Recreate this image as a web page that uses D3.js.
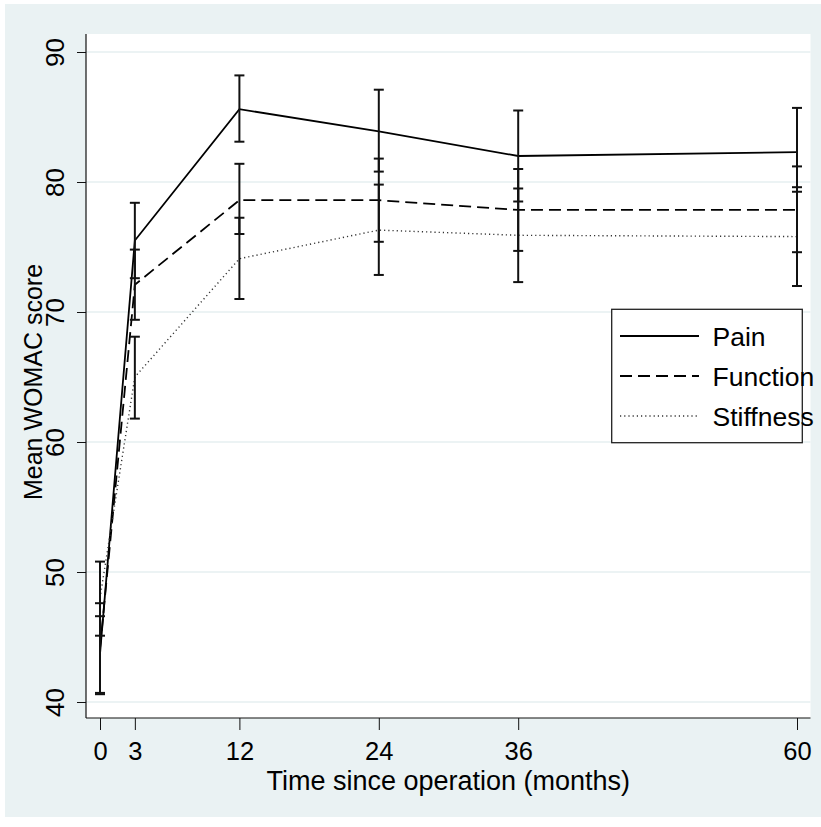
<!DOCTYPE html>
<html>
<head>
<meta charset="utf-8">
<script src="https://cdn.jsdelivr.net/npm/d3@7"></script>
<style>
  body { margin: 0; background: #fff; }
  svg { display: block; font-family: "Liberation Sans", Arial, sans-serif; }
</style>
</head>
<body>
<svg id="chart"></svg>
<script>
// months since operation
var months = [0, 3, 12, 24, 36, 60];
var yTicks = [40, 50, 60, 70, 80, 90];

// mean WOMAC scores and 95% CI
var painMean = [43.7, 75.5, 85.6, 83.9, 82.0, 82.3];
var painLo   = [40.7, 72.6, 83.1, 80.8, 78.5, 79.25];
var painHi   = [46.6, 78.4, 88.2, 87.1, 85.5, 85.7];

var funcMean = [44.1, 72.1, 78.6, 78.6, 77.85, 77.85];
var funcLo   = [40.6, 69.4, 76.0, 75.4, 74.7, 74.6];
var funcHi   = [47.6, 74.8, 81.4, 81.8, 81.0, 81.2];

var stiffMean = [48.0, 65.0, 74.1, 76.3, 75.9, 75.8];
var stiffLo   = [45.1, 61.8, 71.0, 72.85, 72.3, 72.0];
var stiffHi   = [50.8, 68.1, 77.25, 79.8, 79.5, 79.6];

var seriesNames = ["Pain", "Function", "Stiffness"];

var W = 821, H = 827;
var plotL = 86, plotR = 810.5, plotT = 34, plotB = 718;

var svg = d3.select("#chart")
    .attr("width", W)
    .attr("height", H);

// outer stata-ish background
svg.append("rect")
    .attr("x", 5).attr("y", 4)
    .attr("width", W - 5).attr("height", 813)
    .attr("fill", "#eaf2f3");

svg.append("rect")
    .attr("x", plotL).attr("y", plotT)
    .attr("width", plotR - plotL).attr("height", plotB - plotT)
    .attr("fill", "#fff");

var x = d3.scaleLinear().domain([0, 60]).range([100, 797]);
var y = d3.scaleLinear().domain([40, 90]).range([702, 52]);

// gridlines
svg.append("g")
    .selectAll("line")
    .data(yTicks)
    .enter().append("line")
    .attr("x1", plotL).attr("x2", plotR)
    .attr("y1", function (d) { return y(d); })
    .attr("y2", function (d) { return y(d); })
    .attr("stroke", "#e6eff1")
    .attr("stroke-width", 1.3);

// y axis
var yAxis = svg.append("g")
    .attr("transform", "translate(" + plotL + ",0)")
    .call(d3.axisLeft(y).tickValues(yTicks).tickSize(9).tickSizeOuter(0));
yAxis.select(".domain").remove();
yAxis.selectAll("line").attr("stroke", "#111").attr("stroke-width", 1);
yAxis.selectAll("text")
    .attr("transform", "rotate(-90)")
    .attr("x", 0)
    .attr("y", -22.5)
    .attr("dy", 0)
    .attr("text-anchor", "middle")
    .attr("font-family", null)
    .attr("font-size", 26)
    .attr("fill", "#000");

// x axis
var xAxis = svg.append("g")
    .attr("transform", "translate(0," + plotB + ")")
    .call(d3.axisBottom(x).tickValues(months).tickSize(12).tickSizeOuter(0));
xAxis.select(".domain").remove();
xAxis.selectAll("line").attr("stroke", "#111").attr("stroke-width", 1);
xAxis.selectAll("text")
    .attr("y", 42)
    .attr("dy", 0)
    .attr("font-family", null)
    .attr("font-size", 25.5)
    .attr("fill", "#000");

// axis lines
svg.append("line")
    .attr("x1", plotL).attr("x2", plotL)
    .attr("y1", plotT).attr("y2", plotB)
    .attr("stroke", "#111").attr("stroke-width", 1.2);
svg.append("line")
    .attr("x1", plotL).attr("x2", plotR)
    .attr("y1", plotB).attr("y2", plotB)
    .attr("stroke", "#111").attr("stroke-width", 1.2);

// titles
svg.append("text")
    .attr("x", (plotL + plotR) / 2)
    .attr("y", 790)
    .attr("text-anchor", "middle")
    .attr("font-size", 27)
    .text("Time since operation (months)");

svg.append("text")
    .attr("transform", "translate(42," + 382 + ") rotate(-90)")
    .attr("text-anchor", "middle")
    .attr("font-size", 25)
    .text("Mean WOMAC score");

var series = [
    { name: seriesNames[0], mean: painMean, lo: painLo, hi: painHi, dash: null, width: 1.8, color: "#000" },
    { name: seriesNames[1], mean: funcMean, lo: funcLo, hi: funcHi, dash: "12,6", width: 1.8, color: "#000" },
    { name: seriesNames[2], mean: stiffMean, lo: stiffLo, hi: stiffHi, dash: "1.2,3", width: 1.4, color: "#333" }
];

var line = d3.line()
    .x(function (d) { return x(d.m); })
    .y(function (d) { return y(d.v); });

var gLines = svg.append("g");
series.forEach(function (s) {
    var pts = months.map(function (m, i) { return { m: m, v: s.mean[i] }; });
    gLines.append("path")
        .datum(pts)
        .attr("d", line)
        .attr("fill", "none")
        .attr("stroke", s.color)
        .attr("stroke-width", s.width)
        .attr("stroke-dasharray", s.dash);
});

// error bars
var gBars = svg.append("g")
    .attr("stroke", "#111")
    .attr("stroke-width", 2);
series.forEach(function (s) {
    months.forEach(function (m, i) {
        var cx = x(m);
        gBars.append("line")
            .attr("x1", cx).attr("x2", cx)
            .attr("y1", y(s.lo[i])).attr("y2", y(s.hi[i]));
        [s.lo[i], s.hi[i]].forEach(function (v) {
            gBars.append("line")
                .attr("x1", cx - 5).attr("x2", cx + 5)
                .attr("y1", y(v)).attr("y2", y(v));
        });
    });
});

// legend
var legend = svg.append("g");
legend.append("rect")
    .attr("x", 611.7).attr("y", 309.3)
    .attr("width", 190.6).attr("height", 133.4)
    .attr("fill", "#fff")
    .attr("stroke", "#222")
    .attr("stroke-width", 1.3);

series.forEach(function (s, i) {
    var ly = 336 + i * 40;
    legend.append("line")
        .attr("x1", 620).attr("x2", 699)
        .attr("y1", ly).attr("y2", ly)
        .attr("stroke", s.color)
        .attr("stroke-width", s.width)
        .attr("stroke-dasharray", s.dash);
    legend.append("text")
        .attr("x", 712.5)
        .attr("y", ly + 10)
        .attr("font-size", 26.5)
        .text(s.name);
});
</script>
</body>
</html>
